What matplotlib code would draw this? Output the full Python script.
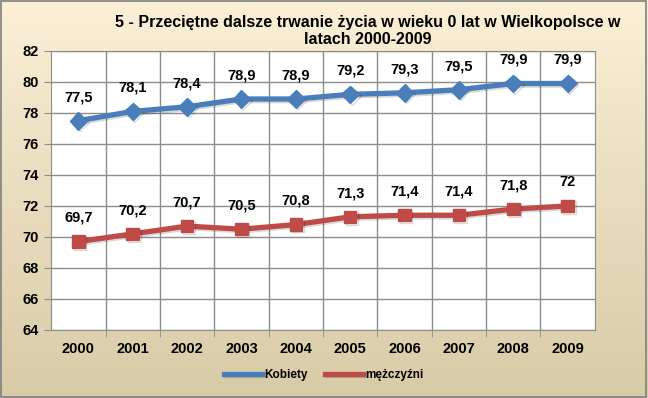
import numpy as np
import matplotlib.pyplot as plt
import matplotlib.patheffects as pe
from matplotlib.patches import Rectangle

years = ['2000', '2001', '2002', '2003', '2004', '2005', '2006', '2007', '2008', '2009']
kobiety = [77.5, 78.1, 78.4, 78.9, 78.9, 79.2, 79.3, 79.5, 79.9, 79.9]
mezczyzni = [69.7, 70.2, 70.7, 70.5, 70.8, 71.3, 71.4, 71.4, 71.8, 72.0]
kob_labels = ['77,5', '78,1', '78,4', '78,9', '78,9', '79,2', '79,3', '79,5', '79,9', '79,9']
mez_labels = ['69,7', '70,2', '70,7', '70,5', '70,8', '71,3', '71,4', '71,4', '71,8', '72']

plt.rcParams['font.family'] = ['Liberation Sans', 'DejaVu Sans']

fig = plt.figure(figsize=(6.48, 3.98), dpi=100)

# background gradient
bg = fig.add_axes([0, 0, 1, 1], zorder=-10)
grad = np.linspace(0, 1, 256).reshape(-1, 1)
top = np.array([0xFB, 0xEF, 0xD6]) / 255
bot = np.array([0xD7, 0xCB, 0xA7]) / 255
img = top + (bot - top) * grad[:, :, None]
bg.imshow(img, aspect='auto', extent=[0, 1, 0, 1])
bg.add_patch(Rectangle((0.002, 0.003), 0.995, 0.994, transform=bg.transAxes,
                       fill=False, edgecolor='#7f7f7f', lw=1.2))
bg.set_axis_off()

ax = fig.add_axes([0.079, 0.171, 0.839, 0.701])
ax.set_facecolor('white')
x = np.arange(len(years))

shadow = [pe.SimpleLineShadow(offset=(1.2, -1.2), alpha=0.15), pe.Normal()]
ax.plot(x, kobiety, color='#4A7EBB', lw=3.8, marker='D', ms=9,
        label='Kobiety', path_effects=shadow, zorder=3)
ax.plot(x, mezczyzni, color='#BE4B48', lw=3.8, marker='s', ms=9,
        label='mężczyźni', path_effects=shadow, zorder=3)

for i in x:
    ax.annotate(kob_labels[i], (i, kobiety[i]), xytext=(0, 12), textcoords='offset points',
                ha='center', va='bottom', fontsize=10.5, fontweight='bold')
    ax.annotate(mez_labels[i], (i, mezczyzni[i]), xytext=(0, 12), textcoords='offset points',
                ha='center', va='bottom', fontsize=10.5, fontweight='bold')

ax.set_xlim(-0.5, 9.5)
ax.set_ylim(64, 82)
ax.set_yticks(np.arange(64, 83, 2))
ax.set_xticks(x)
ax.set_xticklabels(years)
ax.set_xticks(np.arange(0.5, 9.5, 1), minor=True)
ax.grid(True, which='major', axis='y', color='#8c8c8c', lw=1)
ax.grid(True, which='minor', axis='x', color='#8c8c8c', lw=1)
ax.tick_params(axis='x', which='major', length=0, pad=9)
ax.tick_params(axis='x', which='minor', length=5, color='#8c8c8c')
ax.tick_params(axis='y', length=5, color='#8c8c8c', pad=4)
for lab in ax.get_xticklabels() + ax.get_yticklabels():
    lab.set_fontweight('bold')
    lab.set_fontsize(10.5)
for s in ax.spines.values():
    s.set_color('#8c8c8c')

fig.text(0.567, 0.922, '5 - Przeciętne dalsze trwanie życia w wieku 0 lat w Wielkopolsce w\nlatach 2000-2009',
         ha='center', va='center', fontsize=11.5, fontweight='bold', linespacing=1.15)

leg = fig.legend(loc='center', bbox_to_anchor=(0.5, 0.058), ncol=2, frameon=False,
                 prop={'weight': 'bold', 'size': 8.5}, handlelength=3.2, handletextpad=0.2,
                 columnspacing=1.5)
for h in leg.legend_handles:
    h.set_marker('')

fig.savefig('out.png', dpi=100)
